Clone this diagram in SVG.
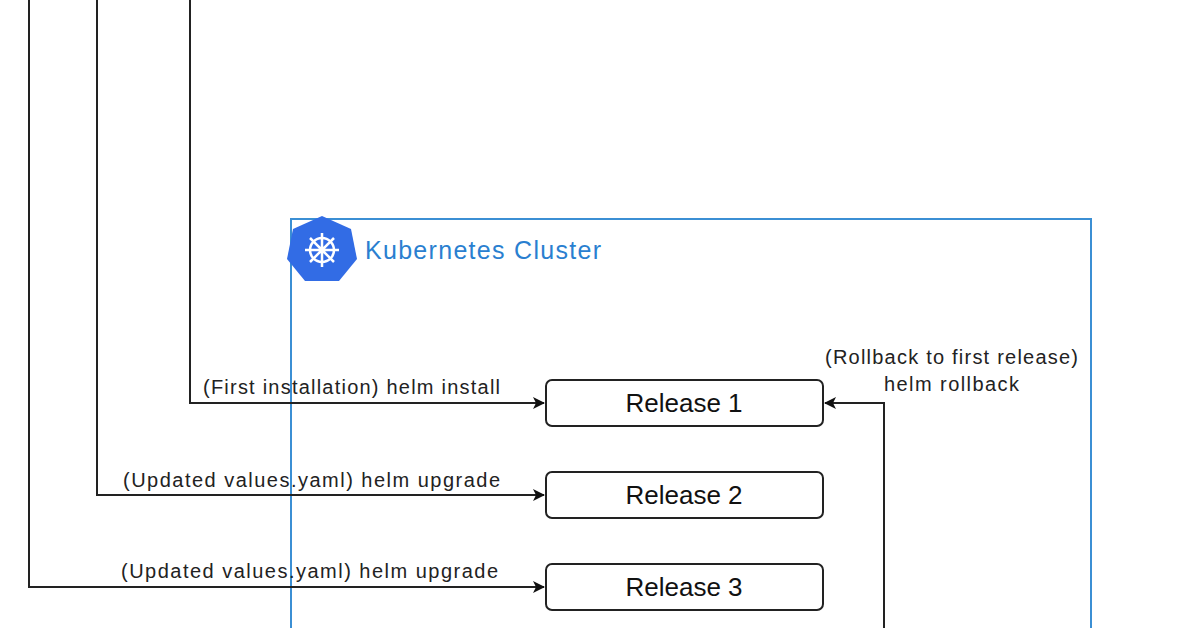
<svg xmlns="http://www.w3.org/2000/svg" width="1196" height="628" viewBox="0 0 1196 628">
<style>
.rel rect{fill:#fff;stroke:#222;stroke-width:2}
.rel text{font-family:"Liberation Sans",Arial,sans-serif;font-size:26px;fill:#111;text-anchor:middle}
.lbl{font-family:"Liberation Sans",Arial,sans-serif;font-size:20px;fill:#222}
.c{fill:none;stroke:#222;stroke-width:2}
</style>
<defs><marker id="a" markerWidth="12" markerHeight="12" refX="11" refY="6" orient="auto" markerUnits="userSpaceOnUse"><path d="M0,0 L12,6 L0,12 L3,6 Z" fill="#111"/></marker></defs>
<rect width="1196" height="628" fill="#fff"/>
<g id="cluster">
<rect x="291" y="219" width="800" height="440" fill="none" stroke="#3b8fd4" stroke-width="2"/>
<path d="M322,216 L351,229 L357,259 L339,281 L305,281 L287,259 L293,229 Z" fill="#326ce5"/>
<g stroke="#fff" stroke-width="2.5" fill="none"><circle cx="322" cy="250" r="12"/><path d="M322,233 V267 M305,250 H339 M310,238 L334,262 M334,238 L310,262"/></g>
<text x="365" y="259" font-family="Liberation Sans,Arial,sans-serif" font-size="25" fill="#2a7fd0" textLength="236">Kubernetes Cluster</text>
</g>
<g id="connectors">
<path class="c" d="M190,0 V403 H544" marker-end="url(#a)"/>
<path class="c" d="M97,0 V495 H544" marker-end="url(#a)"/>
<path class="c" d="M29,0 V587 H544" marker-end="url(#a)"/>
<path class="c" d="M884,628 V403 H825" marker-end="url(#a)"/>
<text class="lbl" x="203" y="394" textLength="297">(First installation) helm install</text>
<text class="lbl" x="123" y="487" textLength="377">(Updated values.yaml) helm upgrade</text>
<text class="lbl" x="121" y="578" textLength="377">(Updated values.yaml) helm upgrade</text>
<text class="lbl" x="825" y="364" textLength="253">(Rollback to first release)</text>
<text class="lbl" x="884" y="391" textLength="135">helm rollback</text>
</g>
<g id="release1" class="rel"><rect x="546" y="380" width="277" height="46" rx="6"/><text x="684" y="412">Release 1</text></g>
<g id="release2" class="rel"><rect x="546" y="472" width="277" height="46" rx="6"/><text x="684" y="504">Release 2</text></g>
<g id="release3" class="rel"><rect x="546" y="564" width="277" height="46" rx="6"/><text x="684" y="596">Release 3</text></g>
</svg>
